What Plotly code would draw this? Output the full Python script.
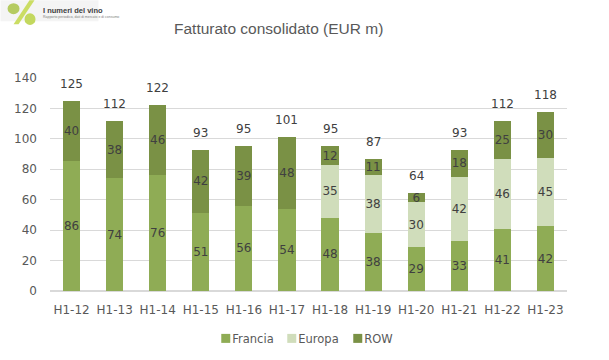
import plotly.graph_objects as go

categories = ["H1-12","H1-13","H1-14","H1-15","H1-16","H1-17","H1-18","H1-19","H1-20","H1-21","H1-22","H1-23"]
francia = [85.6,74,76,51,56,53.6,48,38,28.8,33,41,42.4]
europa = [None,None,None,None,None,None,35,38,29.8,42,46,45]
row = [39.6,38,46,42,39,47.6,12,11,5.6,18,25,30.4]
totals = [125,112,122,93,95,101,95,87,64,93,112,118]

TXT = "#404040"
AXT = "#595959"
FONT = "DejaVu Sans"
L, R, T, B = 49.5, 567, 78, 291.5

def px(x):
    return (x - L) / (R - L)

def py(y):
    return (B - y) / (B - T)

fig = go.Figure()
for name, vals, col in [("Francia", francia, "#8FAC55"), ("Europa", europa, "#D0DDBB"), ("ROW", row, "#7A9145")]:
    fig.add_bar(name=name, x=categories, y=vals, marker=dict(color=col, line_width=0),
                text=[("" if v is None else str(round(v))) for v in vals], textposition="inside",
                insidetextanchor="middle", textangle=0, constraintext="none",
                textfont=dict(family=FONT, size=12, color=TXT), width=0.4)

annotations = [
    dict(x=c, y=sum(v or 0 for v in (f, e, r)), text=str(t), showarrow=False, yanchor="middle", yshift=17,
         font=dict(family=FONT, size=12, color=TXT))
    for c, f, e, r, t in zip(categories, francia, europa, row, totals)
]
annotations += [
    dict(text="<b>I numeri del vino</b>", xref="paper", yref="paper", x=px(42), y=py(10), showarrow=False,
         xanchor="left", yanchor="middle", xshift=-2, font=dict(family="Liberation Sans", size=7.5, color="#404040")),
    dict(text="Rapporto periodico, dati di mercato e di consumo", xref="paper", yref="paper", x=px(42), y=py(16.5),
         showarrow=False, xanchor="left", yanchor="middle", xshift=-2,
         font=dict(family="Liberation Sans", size=3.5, color="#808080")),
    dict(text="Fatturato consolidato (EUR m)", xref="paper", yref="paper", x=px(278), y=py(28.5), showarrow=False,
         xanchor="center", yanchor="middle", font=dict(family="Liberation Sans", size=15.5, color=AXT)),
]

shapes = [
    dict(type="rect", xref="paper", yref="paper", x0=px(0), x1=px(98), y0=py(0), y1=py(21),
         fillcolor="#F4F4F4", line_width=0, layer="below"),
    dict(type="path", xref="paper", yref="paper",
         path=f"M {px(13)} {py(24)} L {px(18)} {py(24)} L {px(34)} {py(0)} L {px(29)} {py(0)} Z",
         fillcolor="#CBDD63", line_width=0),
    dict(type="circle", xref="paper", yref="paper", x0=px(7), x1=px(19), y0=py(14), y1=py(3),
         fillcolor="#B5CB60", line_width=0),
    dict(type="circle", xref="paper", yref="paper", x0=px(24), x1=px(35), y0=py(25), y1=py(13),
         fillcolor="#C3D85E", line_width=0),
]
fig.update_layout(
    width=609, height=360, barmode="stack",
    paper_bgcolor="white", plot_bgcolor="white",
    margin=dict(l=L, r=609 - R, t=T, b=360 - B, autoexpand=False),
    yaxis=dict(range=[0,140], dtick=20, showgrid=True, gridcolor="#D9D9D9", gridwidth=1, zeroline=True,
               zerolinecolor="#D9D9D9", showline=False, ticks="", ticklabelstandoff=12, automargin=False,
               tickfont=dict(family=FONT, size=12, color=AXT)),
    xaxis=dict(showline=True, linecolor="#D9D9D9", ticks="", ticklabelstandoff=8, automargin=False,
               tickfont=dict(family=FONT, size=12, color=AXT)),
    legend=dict(orientation="h", x=px(291), xanchor="center", y=py(339), yanchor="middle", traceorder="normal",
                entrywidth=21, bgcolor="rgba(0,0,0,0)", font=dict(family=FONT, size=11.5, color=AXT)),
    shapes=shapes,
    annotations=annotations,
)
post = """
document.body.style.margin='0';
var gd=document.querySelector('.plotly-graph-div');
gd.querySelectorAll('.legend .scrollbox').forEach(function(n){n.removeAttribute('clip-path');});
gd.querySelectorAll('.legend').forEach(function(n){n.removeAttribute('clip-path');});
gd.querySelectorAll('.legend .legendsymbols').forEach(function(n){n.setAttribute('transform','translate(18.5,0) scale(0.75)');});
"""
fig.write_html("out.html", config={"displayModeBar": False}, post_script=post)
